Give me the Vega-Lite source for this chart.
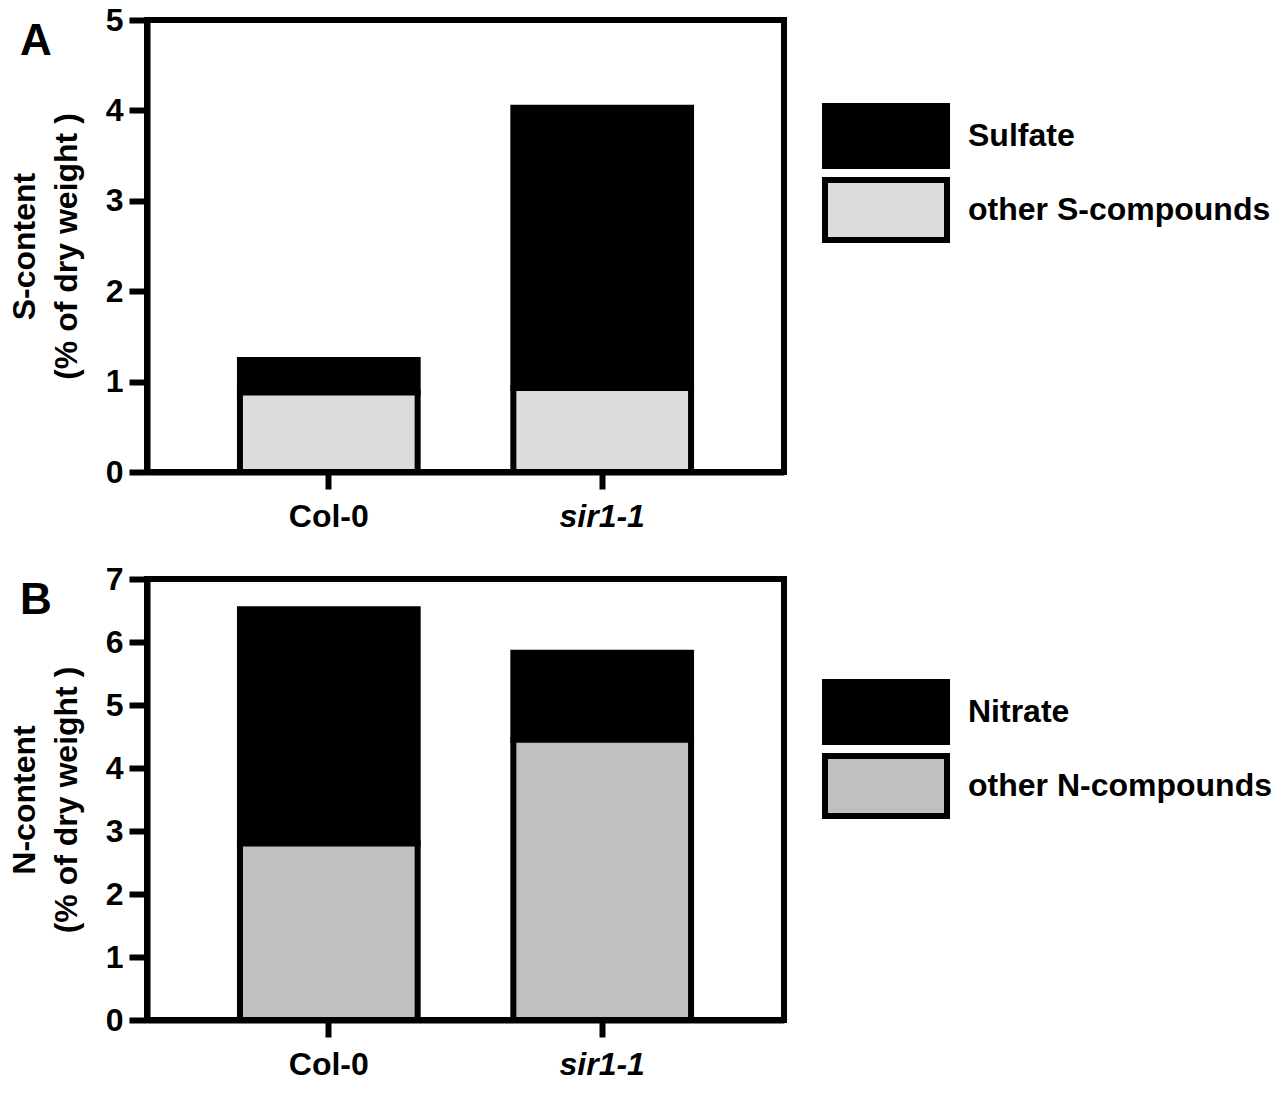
{
  "$schema": "https://vega.github.io/schema/vega-lite/v6.json",
  "background": "white",
  "padding": {"top": 1, "left": 5, "right": 5, "bottom": 5},
  "spacing": 25,
  "config": {
    "font": "Liberation Sans",
    "view": {"stroke": "black", "strokeWidth": 6},
    "axis": {
      "domainColor": "black", "domainWidth": 6,
      "tickColor": "black", "tickWidth": 6,
      "labelColor": "black", "labelFontSize": 32, "labelFontWeight": "bold",
      "titleColor": "black", "titleFontSize": 32, "titleFontWeight": "bold",
      "grid": false
    },
    "legend": {
      "title": null,
      "padding": 0,
      "labelFontSize": 32, "labelFontWeight": "bold", "labelColor": "black",
      "labelOffset": 18, "labelLimit": 500,
      "symbolType": "M-1,-0.49H1V0.49H-1Z",
      "symbolSize": 14884,
      "symbolStrokeColor": "black", "symbolStrokeWidth": 6,
      "symbolOpacity": 1,
      "clipHeight": 66,
      "rowPadding": 8
    },
    "title": {
      "fontSize": 44, "fontWeight": "bold", "color": "black",
      "anchor": "start", "frame": "group", "baseline": "alphabetic",
      "offset": -60, "dx": -127
    }
  },
  "resolve": {
    "scale": {"color": "independent", "y": "independent", "x": "independent"},
    "legend": {"color": "independent"}
  },
  "vconcat": [
    {
      "title": {"text": "A"},
      "width": 637,
      "height": 452,
      "data": {"values": [
        {"line": "Col-0", "component": "Sulfate", "value": 0.36},
        {"line": "Col-0", "component": "other S-compounds", "value": 0.88},
        {"line": "sir1-1", "component": "Sulfate", "value": 3.10},
        {"line": "sir1-1", "component": "other S-compounds", "value": 0.93}
      ]},
      "mark": {"type": "bar", "stroke": "black", "strokeWidth": 6},
      "encoding": {
        "x": {
          "field": "line", "type": "nominal", "sort": ["Col-0", "sir1-1"],
          "scale": {"paddingInner": 0.35, "paddingOuter": 0.34},
          "axis": {
            "title": null, "labelAngle": 0, "tickSize": 17, "labelPadding": 12,
            "labelFontStyle": {"condition": {"test": "datum.value === 'sir1-1'", "value": "italic"}, "value": "normal"}
          }
        },
        "y": {
          "field": "value", "type": "quantitative", "stack": "zero",
          "scale": {"domain": [0, 5], "nice": false},
          "axis": {
            "values": [0, 1, 2, 3, 4, 5], "tickSize": 18, "labelPadding": 6,
            "title": ["S-content", "(% of dry weight )"],
            "titlePadding": 22, "titleLineHeight": 42
          }
        },
        "color": {
          "field": "component", "type": "nominal",
          "scale": {"domain": ["Sulfate", "other S-compounds"], "range": ["#000000", "#dcdcdc"]},
          "legend": {"orient": "none", "legendX": 675, "legendY": 83}
        },
        "order": {"field": "component", "sort": "descending"}
      }
    },
    {
      "title": {"text": "B"},
      "width": 637,
      "height": 441,
      "data": {"values": [
        {"line": "Col-0", "component": "Nitrate", "value": 3.72},
        {"line": "Col-0", "component": "other N-compounds", "value": 2.80},
        {"line": "sir1-1", "component": "Nitrate", "value": 1.38},
        {"line": "sir1-1", "component": "other N-compounds", "value": 4.45}
      ]},
      "mark": {"type": "bar", "stroke": "black", "strokeWidth": 6},
      "encoding": {
        "x": {
          "field": "line", "type": "nominal", "sort": ["Col-0", "sir1-1"],
          "scale": {"paddingInner": 0.35, "paddingOuter": 0.34},
          "axis": {
            "title": null, "labelAngle": 0, "tickSize": 17, "labelPadding": 12,
            "labelFontStyle": {"condition": {"test": "datum.value === 'sir1-1'", "value": "italic"}, "value": "normal"}
          }
        },
        "y": {
          "field": "value", "type": "quantitative", "stack": "zero",
          "scale": {"domain": [0, 7], "nice": false},
          "axis": {
            "values": [0, 1, 2, 3, 4, 5, 6, 7], "tickSize": 18, "labelPadding": 6,
            "title": ["N-content", "(% of dry weight )"],
            "titlePadding": 22, "titleLineHeight": 42
          }
        },
        "color": {
          "field": "component", "type": "nominal",
          "scale": {"domain": ["Nitrate", "other N-compounds"], "range": ["#000000", "#c0c0c0"]},
          "legend": {"orient": "none", "legendX": 675, "legendY": 100}
        },
        "order": {"field": "component", "sort": "descending"}
      }
    }
  ]
}
